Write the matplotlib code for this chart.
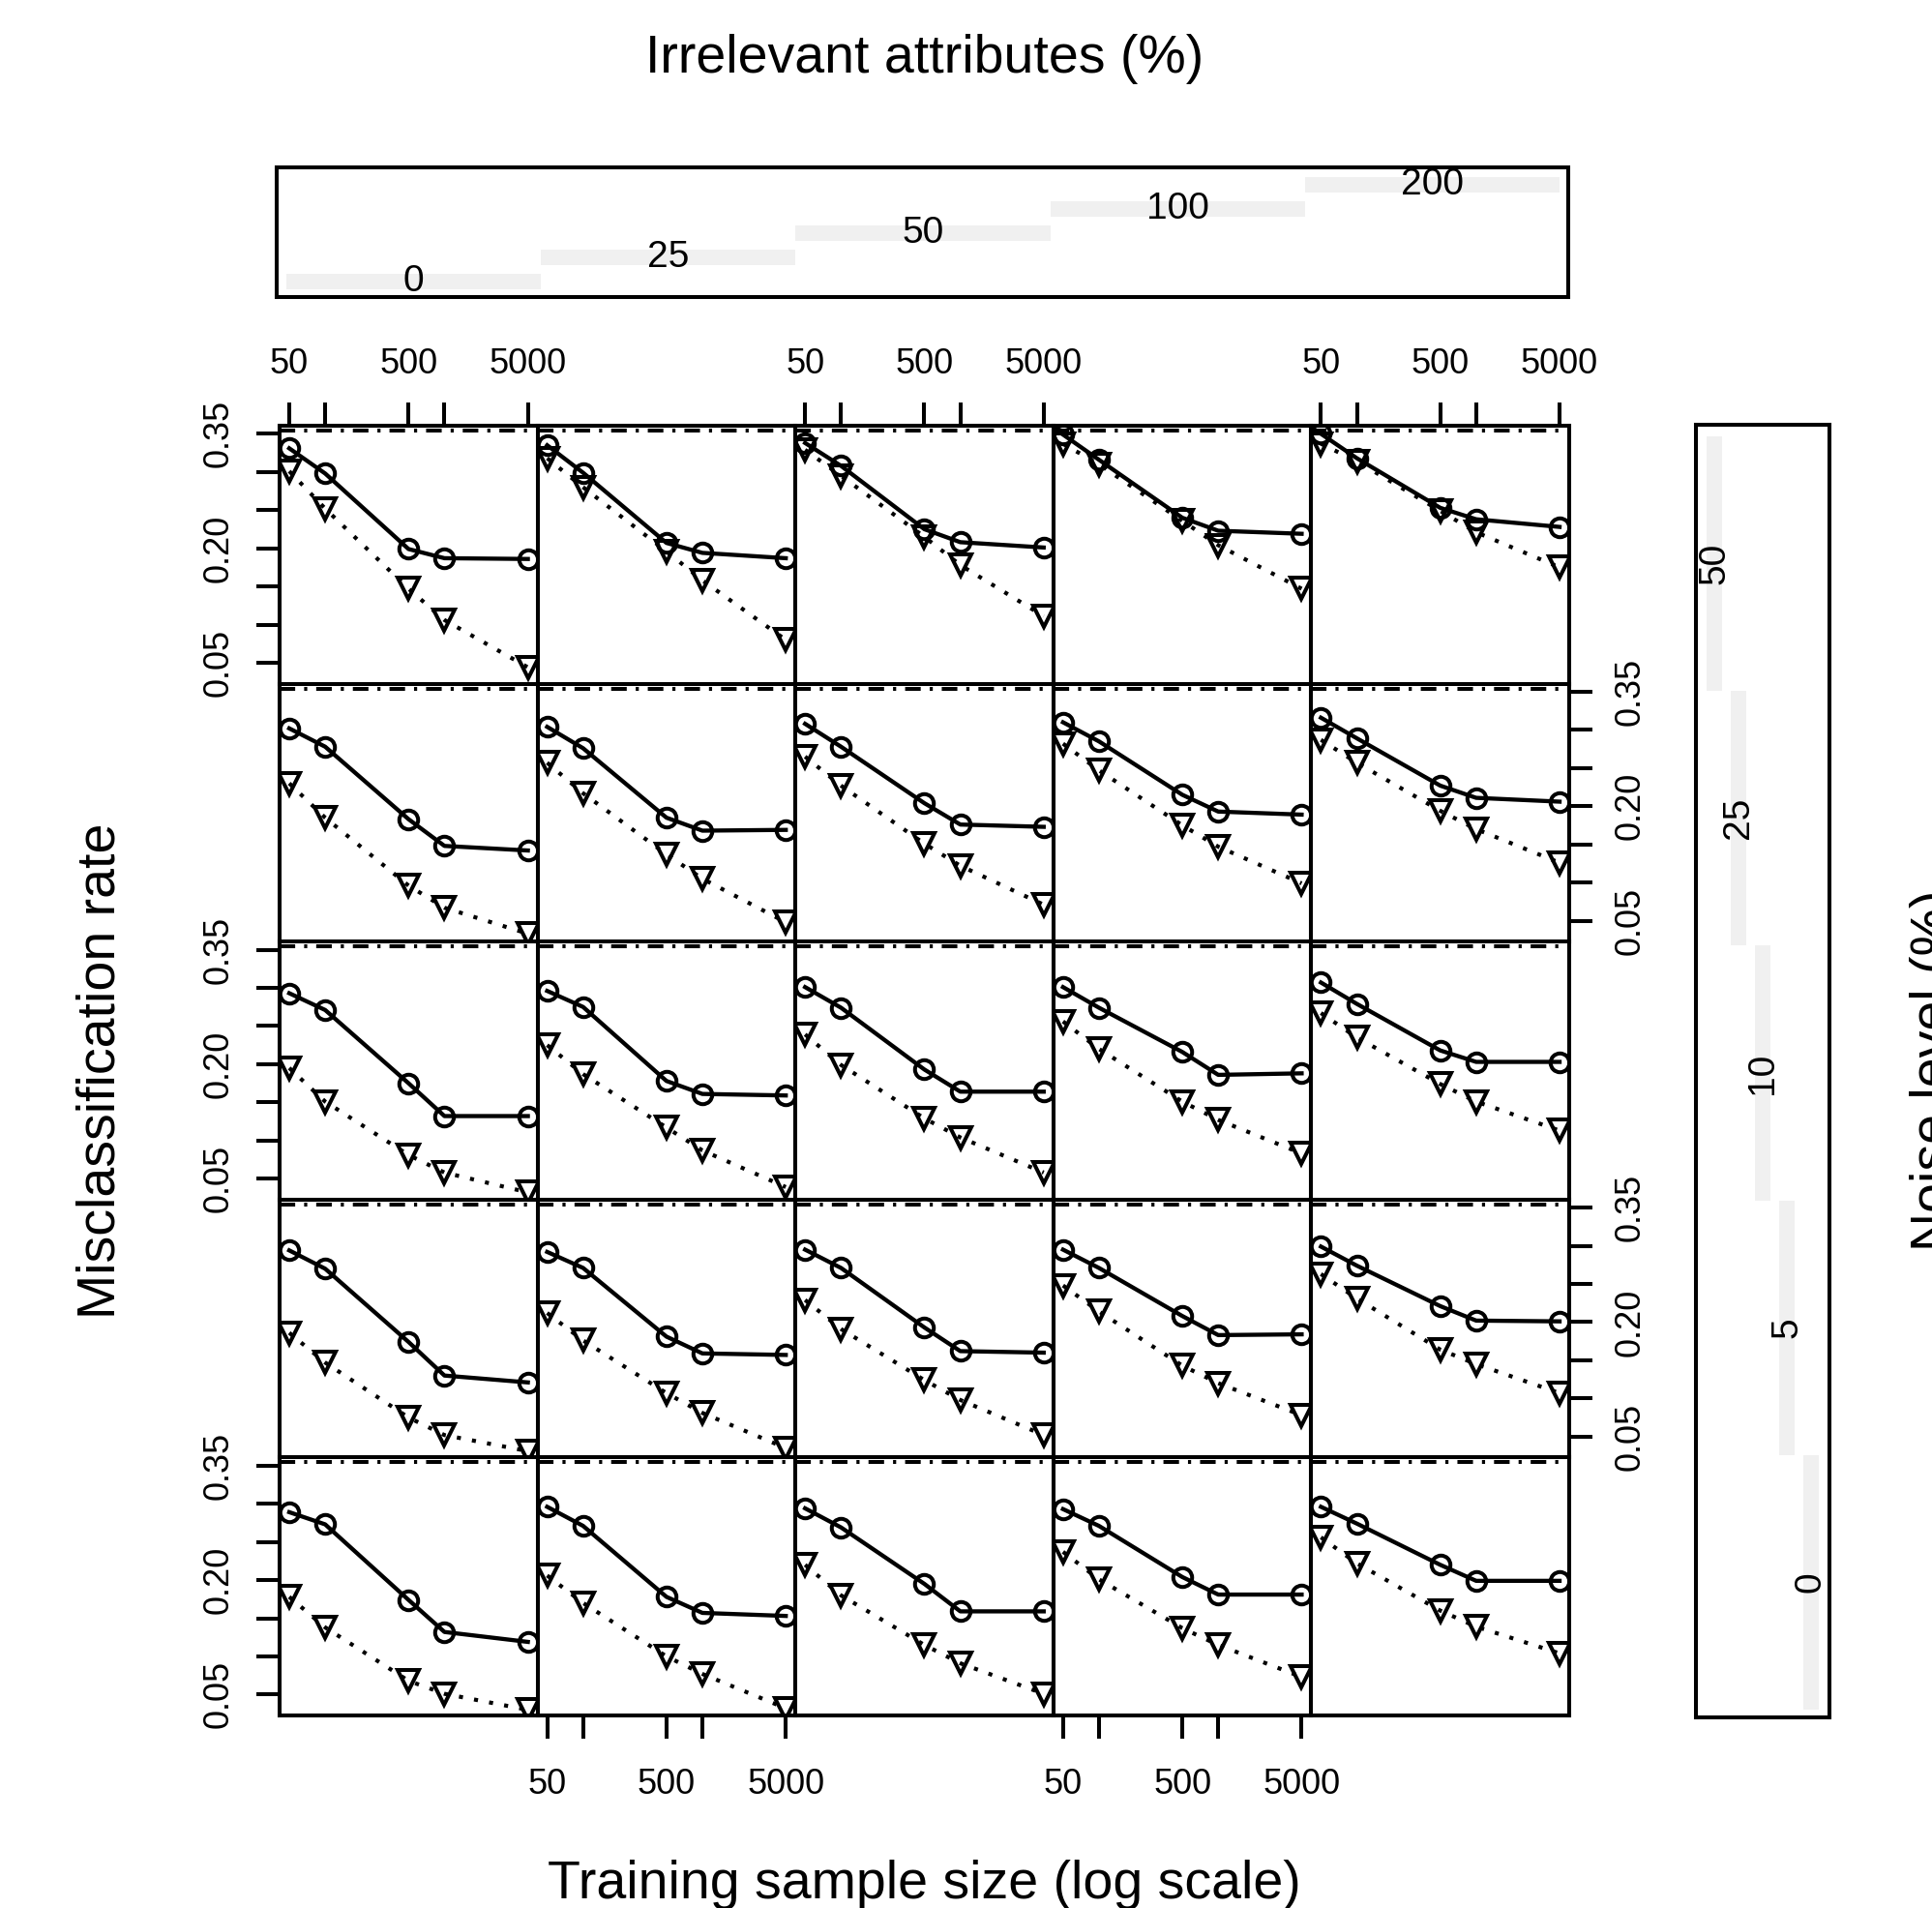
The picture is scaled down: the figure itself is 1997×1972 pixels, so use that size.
import numpy as np
import matplotlib.pyplot as plt
from matplotlib.patches import Rectangle
from matplotlib.ticker import NullLocator

plt.rcParams['font.family'] = ['Liberation Sans', 'DejaVu Sans']

W, H = 1997, 1972

# training sample sizes (x, log scale)
sizes = [50, 100, 500, 1000, 5000]
irrelevant_levels = ['0', '25', '50', '100', '200']   # columns, left to right
noise_levels = ['50', '25', '10', '5', '0']            # rows, top to bottom

# misclassification rates, one list per irrelevant level (0, 25, 50, 100, 200)
# solid line / circles
circ_noise50 = [[0.331, 0.298, 0.199, 0.187, 0.186],
                [0.335, 0.299, 0.207, 0.194, 0.187],
                [0.338, 0.308, 0.225, 0.208, 0.201],
                [0.349, 0.316, 0.240, 0.223, 0.219],
                [0.350, 0.318, 0.253, 0.238, 0.228]]
circ_noise25 = [[0.302, 0.278, 0.183, 0.148, 0.142],
                [0.304, 0.276, 0.185, 0.168, 0.169],
                [0.308, 0.278, 0.204, 0.176, 0.173],
                [0.310, 0.285, 0.215, 0.193, 0.189],
                [0.316, 0.289, 0.227, 0.211, 0.206]]
circ_noise10 = [[0.293, 0.271, 0.175, 0.132, 0.132],
                [0.296, 0.275, 0.178, 0.161, 0.159],
                [0.301, 0.274, 0.193, 0.164, 0.164],
                [0.301, 0.274, 0.216, 0.186, 0.188],
                [0.307, 0.279, 0.218, 0.203, 0.203]]
circ_noise5 = [[0.294, 0.270, 0.174, 0.130, 0.121],
               [0.292, 0.271, 0.181, 0.159, 0.157],
               [0.295, 0.271, 0.193, 0.162, 0.160],
               [0.295, 0.271, 0.208, 0.183, 0.184],
               [0.299, 0.274, 0.221, 0.202, 0.201]]
circ_noise0 = [[0.289, 0.273, 0.174, 0.132, 0.119],
               [0.296, 0.271, 0.178, 0.157, 0.153],
               [0.294, 0.269, 0.195, 0.159, 0.159],
               [0.293, 0.271, 0.204, 0.181, 0.181],
               [0.296, 0.274, 0.220, 0.199, 0.199]]

# dotted line / triangles
tri_noise50 = [[0.301, 0.252, 0.147, 0.106, 0.044],
               [0.318, 0.280, 0.196, 0.158, 0.080],
               [0.329, 0.295, 0.215, 0.178, 0.111],
               [0.337, 0.310, 0.236, 0.204, 0.147],
               [0.337, 0.314, 0.249, 0.221, 0.175]]
tri_noise25 = [[0.230, 0.185, 0.096, 0.067, 0.033],
               [0.257, 0.217, 0.137, 0.105, 0.048],
               [0.265, 0.227, 0.151, 0.122, 0.071],
               [0.282, 0.247, 0.175, 0.147, 0.099],
               [0.287, 0.257, 0.194, 0.170, 0.126]]
tri_noise10 = [[0.195, 0.151, 0.081, 0.058, 0.032],
               [0.225, 0.187, 0.117, 0.087, 0.039],
               [0.239, 0.199, 0.129, 0.104, 0.058],
               [0.256, 0.220, 0.151, 0.127, 0.083],
               [0.267, 0.235, 0.174, 0.151, 0.113]]
tri_noise5 = [[0.186, 0.147, 0.075, 0.052, 0.031],
              [0.212, 0.176, 0.107, 0.081, 0.035],
              [0.229, 0.191, 0.124, 0.098, 0.052],
              [0.248, 0.214, 0.143, 0.120, 0.078],
              [0.263, 0.231, 0.164, 0.145, 0.107]]
tri_noise0 = [[0.178, 0.138, 0.068, 0.051, 0.030],
              [0.206, 0.170, 0.100, 0.077, 0.032],
              [0.220, 0.180, 0.115, 0.091, 0.051],
              [0.237, 0.201, 0.137, 0.115, 0.073],
              [0.256, 0.222, 0.160, 0.139, 0.104]]

circ_rows = [circ_noise50, circ_noise25, circ_noise10, circ_noise5, circ_noise0]
tri_rows = [tri_noise50, tri_noise25, tri_noise10, tri_noise5, tri_noise0]

yticks = [0.05, 0.10, 0.15, 0.20, 0.25, 0.30, 0.35]
ytick_labels = ['0.05', '', '', '0.20', '', '', '0.35']
xtick_labels = ['50', '', '500', '', '5000']

LW = 2.9
TICK = dict(length=17, width=LW, labelsize=26, pad=16, direction='out')


def fbox(x0, y0, x1, y1):
    # pixel box (top-left origin) -> figure fraction rect
    return [x0 / W, 1 - y1 / H, (x1 - x0) / W, (y1 - y0) / H]


fig = plt.figure(figsize=(W / 100, H / 100), dpi=100)
fig.patch.set_facecolor('white')

PX0, PY0, PS = 289, 440, 266.6

for r in range(5):
    for c in range(5):
        ax = fig.add_axes(fbox(PX0 + c * PS, PY0 + r * PS, PX0 + (c + 1) * PS, PY0 + (r + 1) * PS))
        ax.plot(sizes, circ_rows[r][c], '-', color='black', lw=3.1,
                marker='o', ms=14, mfc='none', mec='black', mew=2.9)
        ax.plot(sizes, tri_rows[r][c], linestyle=(0, (1, 2.8)), color='black', lw=3.0,
                marker='v', ms=16, mfc='none', mec='black', mew=2.9)
        ax.set_xscale('log')
        ax.set_xlim(10 ** 1.618, 10 ** 3.780)
        ax.set_ylim(0.0226, 0.3606)
        for s in ax.spines.values():
            s.set_linewidth(LW)
        # thin strip remnant under the top border
        ax.plot([0, 1], [1 - 5 / PS] * 2, transform=ax.transAxes, color='black',
                lw=2.9, linestyle=(0, (4, 2.3, 0.8, 2.3)), clip_on=False)

        ax.set_xticks(sizes)
        ax.set_xticklabels(xtick_labels)
        ax.xaxis.set_minor_locator(NullLocator())
        ax.set_yticks(yticks)
        ax.set_yticklabels(ytick_labels)
        ax.tick_params(**TICK)
        ax.tick_params(axis='x', which='both', bottom=False, top=False,
                       labelbottom=False, labeltop=False)
        ax.tick_params(axis='y', left=False, right=False, labelleft=False, labelright=False,
                       labelrotation=90)
        if r == 0 and c % 2 == 0:
            ax.tick_params(axis='x', top=True, labeltop=True)
        if r == 4 and c % 2 == 1:
            ax.tick_params(axis='x', bottom=True, labelbottom=True, pad=22)
        if c == 0 and r % 2 == 0:
            ax.tick_params(axis='y', left=True, labelleft=True)
        if c == 4 and r % 2 == 1:
            ax.tick_params(axis='y', right=True, labelright=True)
        for lbl in ax.get_yticklabels():
            lbl.set_va('center')

# top strip: irrelevant attributes
sx0, sy0, sx1, sy1 = 286, 173, 1621, 307
sax = fig.add_axes(fbox(sx0, sy0, sx1, sy1))
sax.set_xlim(sx0, sx1)
sax.set_ylim(sy1, sy0)
sax.set_xticks([])
sax.set_yticks([])
for s in sax.spines.values():
    s.set_linewidth(LW)
bw = (1612 - 296) / 5
for i, lev in enumerate(irrelevant_levels):
    cy = 291 - i * 25
    sax.add_patch(Rectangle((296 + i * bw, cy - 8), bw, 16, facecolor='#f0f0f0', edgecolor='none'))
    sax.text(296 + (i + 0.5) * bw, cy, lev, ha='center', va='center', fontsize=28)

# right strip: noise level
rx0, ry0, rx1, ry1 = 1753, 439, 1891, 1775
rax = fig.add_axes(fbox(rx0, ry0, rx1, ry1))
rax.set_xlim(rx0, rx1)
rax.set_ylim(ry1, ry0)
rax.set_xticks([])
rax.set_yticks([])
for s in rax.spines.values():
    s.set_linewidth(LW)
bh = (1767 - 451) / 5
for i, lev in enumerate(noise_levels):
    cx = 1772 + i * 25
    rax.add_patch(Rectangle((cx - 8, 451 + i * bh), 16, bh, facecolor='#f0f0f0', edgecolor='none'))
    rax.text(cx, 451 + (i + 0.5) * bh, lev, ha='center', va='center', rotation=90, fontsize=28)

# titles
mid_x = (PX0 + PX0 + 5 * PS) / 2
mid_y = (PY0 + PY0 + 5 * PS) / 2
fig.text(mid_x / W, 1 - 61 / H, 'Irrelevant attributes (%)', ha='center', va='center', fontsize=40)
fig.text(mid_x / W, 1 - 1948 / H, 'Training sample size (log scale)', ha='center', va='center', fontsize=40)
fig.text(105 / W, 1 - mid_y / H, 'Misclassification rate', ha='center', va='center',
         rotation=90, fontsize=40)
fig.text(1974 / W, 1 - mid_y / H, 'Noise level (%)', ha='left', va='center',
         rotation=90, fontsize=40)

fig.savefig('out.png', dpi=100, facecolor='white')
